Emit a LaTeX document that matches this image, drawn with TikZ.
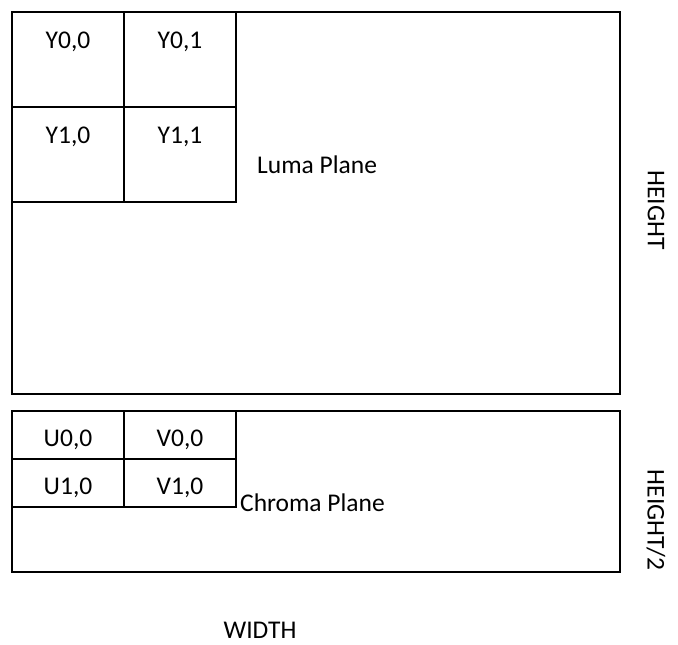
\documentclass[tikz,border=0pt]{standalone}
\usepackage{fontspec}
\setmainfont{Carlito}
\begin{document}
\begin{tikzpicture}[x=1pt,y=-1pt,
  box/.style={draw=black,line width=1.8pt},
  lbl/.style={font=\fontsize{25.5}{28}\selectfont,inner sep=0pt},
  cell/.style={lbl,anchor=base}]
\useasboundingbox (0,0) rectangle (678,645);
% luma plane
\draw[box] (12,12) rectangle (620,394);
\draw[box] (12,107) -- (236,107);
\draw[box] (12,202) -- (236,202) -- (236,12);
\draw[box] (124,12) -- (124,202);
\node[cell] (y00) at (68,48) {Y0,0};
\node[cell] (y01) at (180,48) {Y0,1};
\node[cell] (y10) at (68,143) {Y1,0};
\node[cell] (y11) at (180,143) {Y1,1};
\node[lbl,anchor=base west] (luma) at (257,173) {Luma Plane};
% chroma plane
\draw[box] (12,411) rectangle (620,572);
\draw[box] (12,459) -- (236,459);
\draw[box] (12,507) -- (236,507) -- (236,411);
\draw[box] (124,411) -- (124,507);
\node[cell] (u00) at (68,446) {U0,0};
\node[cell] (v00) at (180,446) {V0,0};
\node[cell] (u10) at (68,494) {U1,0};
\node[cell] (v10) at (180,494) {V1,0};
\node[lbl,anchor=base west] (chroma) at (240,511) {Chroma Plane};
% dimensions
\node[lbl,rotate=-90] (h) at (656,210) {HEIGHT};
\node[lbl,rotate=-90] (h2) at (656,520) {HEIGHT/2};
\node[lbl] (w) at (260,630) {WIDTH};
\end{tikzpicture}
\end{document}
